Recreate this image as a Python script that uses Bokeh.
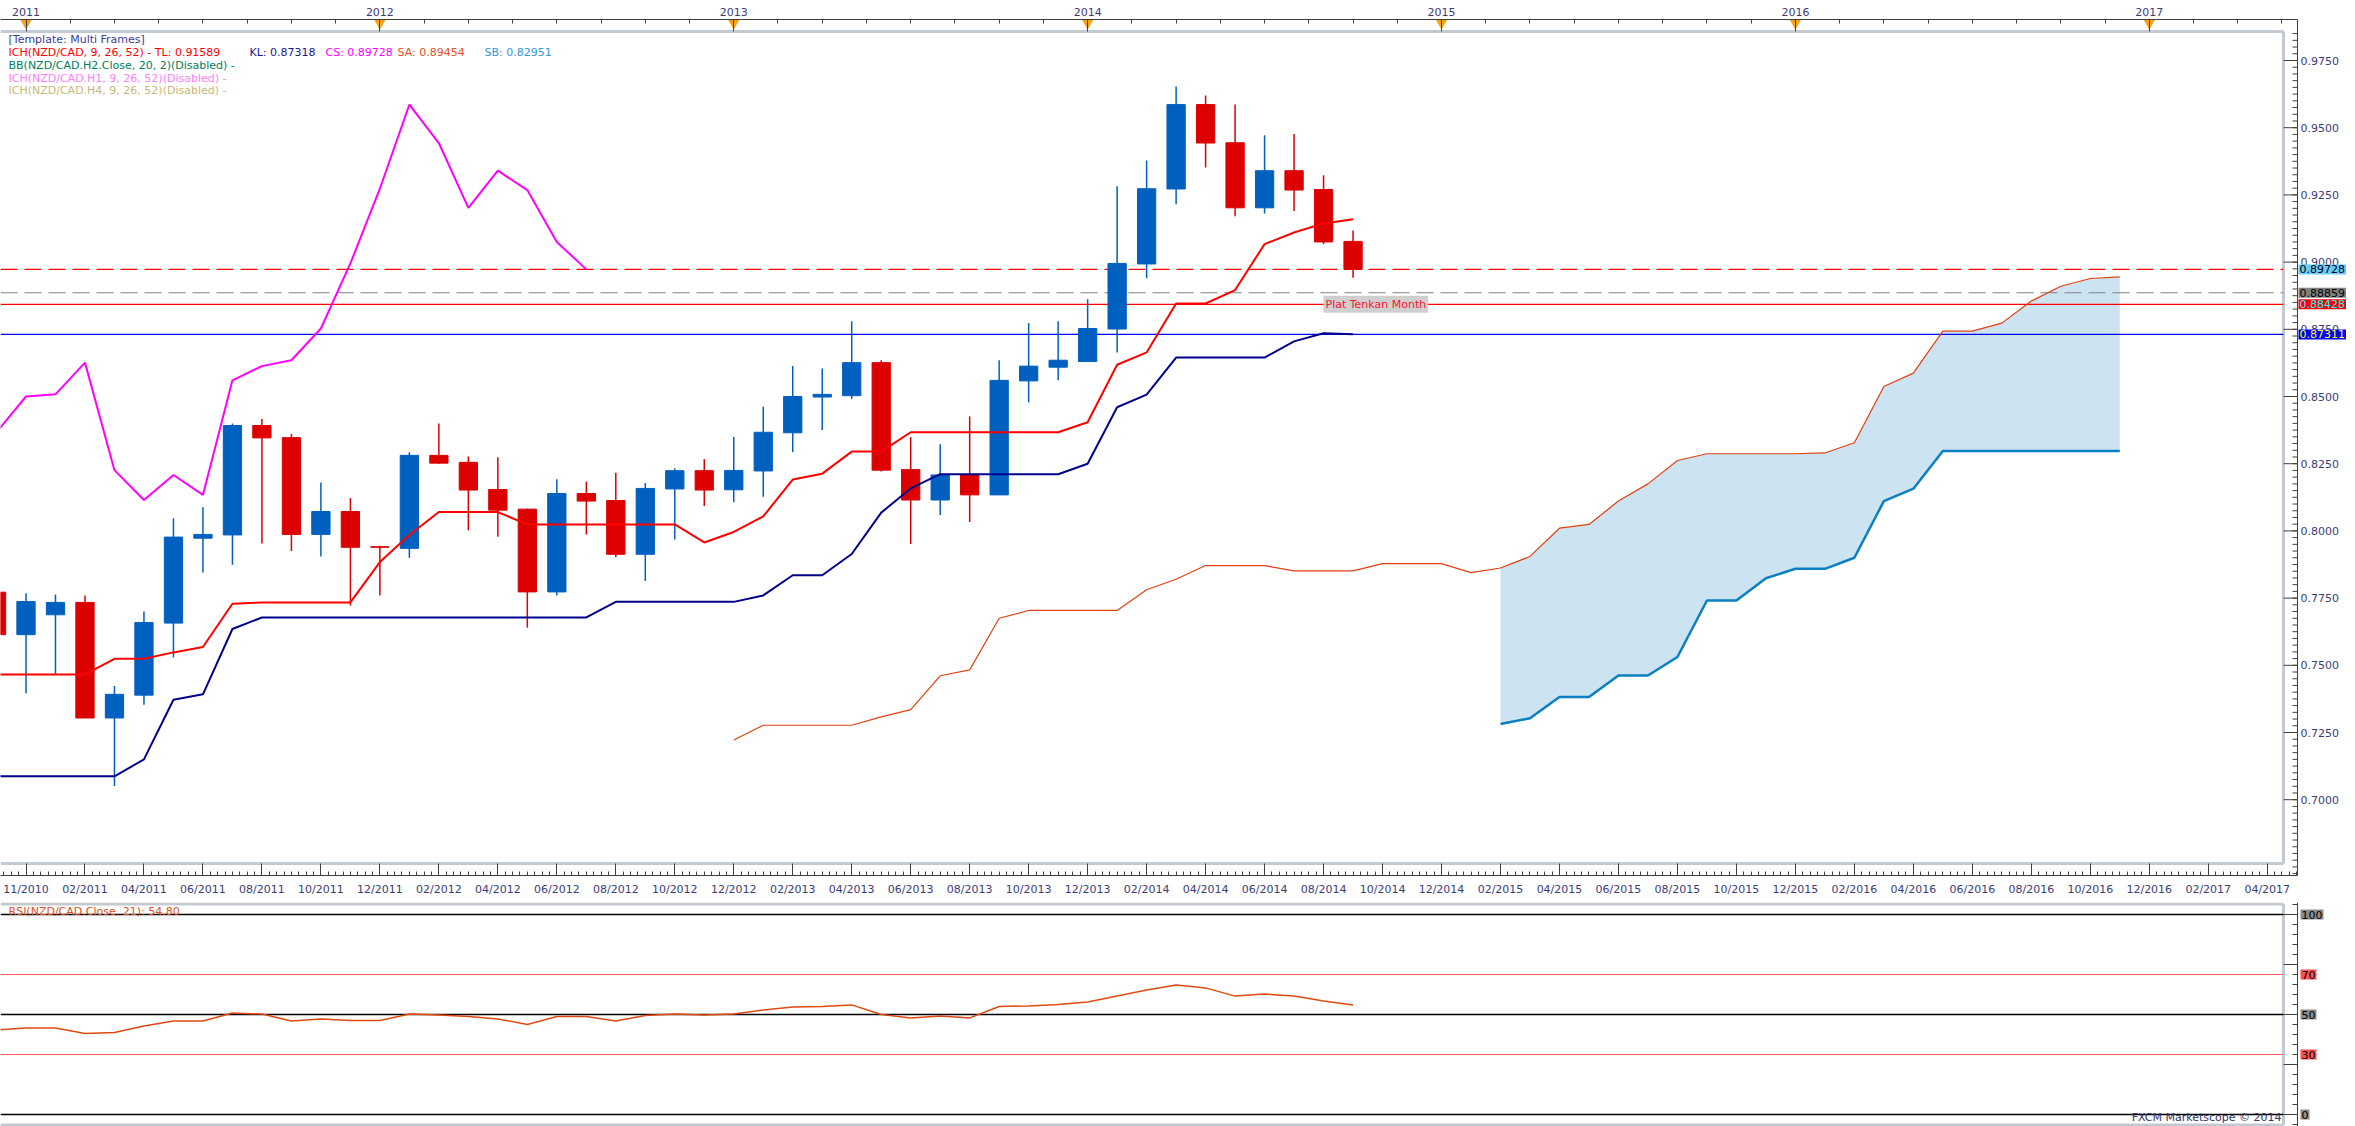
import numpy as np
from bokeh.plotting import figure
from bokeh.models import Range1d, LinearAxis, FixedTicker, Label
from bokeh.core.properties import value
from bokeh.layouts import column
from bokeh.embed import file_html
from bokeh.resources import INLINE

FONT = "DejaVu Sans"
AXIS_TEXT = "#3c3c78"

# ---------------- data (monthly bars, index 0 = tick labelled 11/2010) ----------------
bar_index = list(range(-1, 46))
opens = [0.7772, 0.7614, 0.7688, 0.7734, 0.7304, 0.7389, 0.7657, 0.7973, 0.7985, 0.8392,
         0.8347, 0.7987, 0.8072, 0.7941, 0.7935, 0.8281, 0.8255, 0.8154, 0.8081, 0.7773,
         0.8139, 0.8113, 0.7913, 0.8156, 0.8224, 0.8153, 0.8223, 0.8365, 0.8498, 0.8503,
         0.8626, 0.8228, 0.8115, 0.8208, 0.8134, 0.8558, 0.8609, 0.8630, 0.8751, 0.8993,
         0.9272, 0.9586, 0.9444, 0.9202, 0.9340, 0.9270, 0.9077]
highs = [0.7785, 0.7768, 0.7763, 0.7760, 0.7423, 0.7700, 0.8047, 0.8088, 0.8400, 0.8416,
         0.8361, 0.8180, 0.8122, 0.7945, 0.8293, 0.8400, 0.8277, 0.8274, 0.8083, 0.8192,
         0.8183, 0.8216, 0.8178, 0.8233, 0.8267, 0.8349, 0.8462, 0.8613, 0.8604, 0.8780,
         0.8635, 0.8349, 0.8322, 0.8426, 0.8635, 0.8773, 0.8780, 0.8862, 0.9282, 0.9378,
         0.9653, 0.9620, 0.9586, 0.9472, 0.9477, 0.9323, 0.9118]
lows = [0.7600, 0.7396, 0.7469, 0.7304, 0.7051, 0.7353, 0.7529, 0.7845, 0.7874, 0.7953,
        0.7925, 0.7905, 0.7722, 0.7760, 0.7900, 0.8250, 0.8002, 0.7978, 0.7640, 0.7760,
        0.7987, 0.7903, 0.7814, 0.7968, 0.8093, 0.8107, 0.8127, 0.8293, 0.8375, 0.8491,
        0.8221, 0.7951, 0.8059, 0.8033, 0.8134, 0.8478, 0.8560, 0.8630, 0.8664, 0.8940,
        0.9215, 0.9352, 0.9171, 0.9181, 0.9190, 0.9067, 0.8942]
closes = [0.7614, 0.7737, 0.7734, 0.7304, 0.7392, 0.7659, 0.7977, 0.7987, 0.8392, 0.8346,
          0.7987, 0.8072, 0.7939, 0.7939, 0.8281, 0.8252, 0.8152, 0.8077, 0.7773, 0.8139,
          0.8111, 0.7913, 0.8158, 0.8224, 0.8152, 0.8225, 0.8367, 0.8500, 0.8508, 0.8626,
          0.8226, 0.8115, 0.8208, 0.8134, 0.8560, 0.8613, 0.8635, 0.8753, 0.8995, 0.9273,
          0.9586, 0.9443, 0.9202, 0.9340, 0.9268, 0.9075, 0.8973]
tenkan = [0.7466, 0.7466, 0.7466, 0.7466, 0.7524, 0.7524, 0.7548, 0.7568, 0.7729, 0.7734,
          0.7734, 0.7734, 0.7734, 0.7884, 0.7985, 0.8070, 0.8070, 0.8070, 0.8024, 0.8024,
          0.8024, 0.8024, 0.8024, 0.8024, 0.7957, 0.7996, 0.8054, 0.8191, 0.8213, 0.8295,
          0.8295, 0.8367, 0.8367, 0.8367, 0.8367, 0.8367, 0.8367, 0.8404, 0.8618, 0.8664,
          0.8846, 0.8846, 0.8896, 0.9067, 0.9110, 0.9144, 0.9159]
kijun = [0.7087, 0.7087, 0.7087, 0.7087, 0.7087, 0.7150, 0.7372, 0.7392, 0.7635, 0.7678,
         0.7678, 0.7678, 0.7678, 0.7678, 0.7678, 0.7678, 0.7678, 0.7678, 0.7678, 0.7678,
         0.7678, 0.7736, 0.7736, 0.7736, 0.7736, 0.7736, 0.7760, 0.7835, 0.7835, 0.7914,
         0.8068, 0.8158, 0.8211, 0.8211, 0.8211, 0.8211, 0.8211, 0.8250, 0.8460, 0.8507,
         0.8645, 0.8645, 0.8645, 0.8645, 0.8705, 0.8735, 0.8732]
rsi = [42.3, 43.3, 43.3, 40.5, 41.0, 44.2, 46.8, 46.8, 50.7, 50.2,
       46.8, 47.8, 47.0, 47.0, 50.2, 49.8, 49.0, 47.8, 45.0, 49.0,
       49.0, 46.8, 49.5, 50.2, 49.7, 50.3, 52.2, 53.7, 54.0, 54.8,
       50.0, 48.3, 49.2, 48.3, 54.0, 54.3, 55.0, 56.3, 59.3, 62.3,
       64.7, 63.3, 59.2, 60.2, 59.3, 56.7, 54.8]
chikou_shift = 26

span_a_index = list(range(24, 72))
span_a = [0.7222, 0.7277, 0.7277, 0.7277, 0.7277, 0.7308, 0.7335, 0.7461, 0.7483, 0.7675,
          0.7704, 0.7704, 0.7704, 0.7704, 0.7781, 0.7820, 0.7871, 0.7871, 0.7871, 0.7851,
          0.7851, 0.7851, 0.7878, 0.7878, 0.7878, 0.7845, 0.7862, 0.7905, 0.8010, 0.8024,
          0.8111, 0.8175, 0.8262, 0.8287, 0.8287, 0.8287, 0.8287, 0.8290, 0.8328, 0.8537,
          0.8587, 0.8743, 0.8743, 0.8773, 0.8855, 0.8910, 0.8939, 0.8945]
span_b_index = list(range(50, 72))
span_b = [0.7282, 0.7303, 0.7382, 0.7382, 0.7462, 0.7462, 0.7531, 0.7741, 0.7741, 0.7824,
          0.7859, 0.7859, 0.7900, 0.8111, 0.8157, 0.8297, 0.8297, 0.8297, 0.8297, 0.8297,
          0.8297, 0.8297]

month_tick_labels = ["11/2010", "02/2011", "04/2011", "06/2011", "08/2011", "10/2011", "12/2011",
                     "02/2012", "04/2012", "06/2012", "08/2012", "10/2012", "12/2012",
                     "02/2013", "04/2013", "06/2013", "08/2013", "10/2013", "12/2013",
                     "02/2014", "04/2014", "06/2014", "08/2014", "10/2014", "12/2014",
                     "02/2015", "04/2015", "06/2015", "08/2015", "10/2015", "12/2015",
                     "02/2016", "04/2016", "06/2016", "08/2016", "10/2016", "12/2016",
                     "02/2017", "04/2017"]
year_tick_labels = ["2011", "2012", "2013", "2014", "2015", "2016", "2017"]
price_ticks = [0.7000, 0.7250, 0.7500, 0.7750, 0.8000, 0.8250, 0.8500, 0.8750,
               0.9000, 0.9250, 0.9500, 0.9750]
price_tick_labels = ["0.7000", "0.7250", "0.7500", "0.7750", "0.8000", "0.8250", "0.8500",
                     "0.8750", "0.9000", "0.9250", "0.9500", "0.9750"]

price_levels = [0.89728, 0.88859, 0.88428, 0.87311]
price_tag_text = ["0.89728", "0.88859", "0.88428", "0.87311"]
rsi_ticks = [0, 25, 50, 75, 100]
rsi_levels = [100, 70, 50, 30, 0]
rsi_level_text = ["100", "70", "50", "30", "0"]

assert len(opens) == len(highs) == len(lows) == len(closes) == len(bar_index)
assert len(tenkan) == len(kijun) == len(rsi) == len(bar_index)
assert len(span_a) == len(span_a_index) and len(span_b) == len(span_b_index)

# ---------------- geometry (reference-pixel helpers, 1:1 with the reference) ----------------
TOTAL_W = 2355
PX_PER_MONTH = 29.49
X0 = (0 - 25.5) / PX_PER_MONTH
X1 = (TOTAL_W - 25.5) / PX_PER_MONTH
REF_TOP, REF_BOT = 19.0, 875.0
Y1 = 0.975 + (60 - REF_TOP) / 67.2 * 0.025
Y0 = 0.975 - (REF_BOT - 60) / 67.2 * 0.025


def xd(px):
    return X0 + px * (X1 - X0) / TOTAL_W


def yd(py):
    return Y1 - (py - REF_TOP) * (Y1 - Y0) / (REF_BOT - REF_TOP)


def ry(py):
    return 100 - (py - 914) / 2.0


FRAME_GREY = "#c3c9d1"
AX_COL = "#404040"

# ---------------- main figure ----------------
p = figure(width=TOTAL_W, height=902, x_range=Range1d(X0, X1), y_range=Range1d(Y0, Y1),
           output_backend="svg", toolbar_location=None, y_axis_location=None,
           min_border_left=0, min_border_right=0, min_border_top=19, min_border_bottom=27)
p.xgrid.visible = False
p.ygrid.visible = False
p.outline_line_color = None
p.background_fill_color = "white"
p.border_fill_color = "white"

x_border = xd(2283)
x_axis_line = xd(2297)


def style_axis(ax, tick_in, minor_in):
    ax.axis_line_color = AX_COL
    ax.major_tick_line_color = AX_COL
    ax.minor_tick_line_color = AX_COL
    ax.major_tick_in = tick_in
    ax.major_tick_out = 0
    ax.minor_tick_in = minor_in
    ax.minor_tick_out = 0
    ax.major_label_text_font = FONT
    ax.major_label_text_font_size = "11px"
    ax.major_label_text_color = AXIS_TEXT
    ax.bounds = (X0, x_axis_line)


# bottom month axis
xax = p.xaxis[0]
month_pos = [2 * k for k in range(len(month_tick_labels))]
xax.ticker = FixedTicker(ticks=month_pos, minor_ticks=[0.25 * k for k in range(-3, 309)])
xax.major_label_overrides = {pos: lab for pos, lab in zip(month_pos, month_tick_labels)}
style_axis(xax, 12, 4)
xax.major_label_standoff = 7

# top year axis
year_pos = [12 * k for k in range(len(year_tick_labels))]
top = LinearAxis(ticker=FixedTicker(ticks=year_pos, minor_ticks=[1.5 * k for k in range(52)]),
                 major_label_overrides={pos: lab for pos, lab in zip(year_pos, year_tick_labels)})
style_axis(top, 12, 4)
top.major_label_standoff = 4
p.add_layout(top, "above")
p.scatter(year_pos, [yd(22.5)] * len(year_pos), marker="inverted_triangle", size=10,
          fill_color="#f7a21b", line_color="#f7a21b")

# frame borders
p.segment([X0, x_border, X0], [yd(31), yd(31), yd(863)], [x_border, x_border, x_border],
          [yd(31), yd(863), yd(863)], line_color=FRAME_GREY, line_width=3)

# price scale on the right (drawn through the data scales)
p.segment([x_axis_line], [Y1], [x_axis_line], [Y0], line_color=AX_COL, line_width=1)
p.segment([x_border] * len(price_ticks), price_ticks, [x_axis_line] * len(price_ticks),
          price_ticks, line_color=AX_COL, line_width=1)
minor_price = [round(0.6725 + 0.0025 * k, 4) for k in range(126)]
p.segment([xd(2292)] * len(minor_price), minor_price, [x_axis_line] * len(minor_price),
          minor_price, line_color=AX_COL, line_width=1)
p.text(x=[xd(2300)] * len(price_ticks), y=price_ticks, text=price_tick_labels,
       text_font=value(FONT), text_font_size="11px", text_color=AXIS_TEXT,
       text_baseline="middle", text_align="left")

# cloud
cloud_a = span_a[span_b_index[0] - span_a_index[0]:]
p.varea(x=span_b_index, y1=cloud_a, y2=span_b, fill_color="#cce4f1")

# price lines
p.segment([X0], [price_levels[0]], [x_border], [price_levels[0]], line_color="#ff0000",
          line_width=1.2, line_dash="17 7")
p.segment([X0], [price_levels[1]], [x_border], [price_levels[1]], line_color="#808080",
          line_width=1.2, line_dash="17 7")
p.segment([X0], [price_levels[2]], [x_border], [price_levels[2]], line_color="#ff0000", line_width=1.2)
p.segment([X0], [price_levels[3]], [x_border], [price_levels[3]], line_color="#0000ff", line_width=1.2)

# senkou spans
p.line(span_a_index, span_a, line_color="#e04010", line_width=1.2)
p.line(span_b_index, span_b, line_color="#0a7fc2", line_width=2.5)

# candles
UP, DOWN = "#0060c0", "#dc0000"
colors = [UP if c >= o else DOWN for o, c in zip(opens, closes)]
p.segment(bar_index, highs, bar_index, lows, line_color=colors, line_width=1.5)
p.vbar(x=bar_index, width=0.62, top=[max(o, c) for o, c in zip(opens, closes)],
       bottom=[min(o, c) for o, c in zip(opens, closes)], fill_color=colors, line_color=colors,
       line_width=1)

# ichimoku lines
p.line(bar_index, kijun, line_color="#00008b", line_width=2)
p.line(bar_index, tenkan, line_color="#ff0000", line_width=2)
p.line([i - chikou_shift for i in bar_index], closes, line_color="#ff00ff", line_width=2)


def label(fig, x, y, text, color, align="left", bg=None, size="11px", pad=0):
    kw = dict(x=x, y=y, text=text, text_color=color, text_font=FONT, text_font_size=size,
              text_align=align, text_baseline="middle")
    if bg is not None:
        kw.update(background_fill_color=bg, background_fill_alpha=1.0, padding=pad)
    fig.add_layout(Label(**kw))


# legend block
label(p, xd(8), yd(39), "[Template: Multi Frames]", "#3c3c96")
label(p, xd(8), yd(52), "ICH(NZD/CAD, 9, 26, 52) -  TL: 0.91589", "#ff0000")
label(p, xd(249), yd(52), "KL: 0.87318", "#1a1a8c")
label(p, xd(325), yd(52), "CS: 0.89728", "#ff00ff")
label(p, xd(397), yd(52), "SA: 0.89454", "#e8501e")
label(p, xd(484), yd(52), "SB: 0.82951", "#3399dd")
label(p, xd(8), yd(65), "BB(NZD/CAD.H2.Close, 20, 2)(Disabled) -", "#008060")
label(p, xd(8), yd(78), "ICH(NZD/CAD.H1, 9, 26, 52)(Disabled) -", "#ff80ff")
label(p, xd(8), yd(90), "ICH(NZD/CAD.H4, 9, 26, 52)(Disabled) -", "#c8b878")

label(p, xd(1323), price_levels[2], "Plat Tenkan Month", "#ff1030", bg="#cfcfcf", pad=2)

# price tags on the right scale
tag_x = xd(2298)
label(p, tag_x, price_levels[0], price_tag_text[0], "black", bg="#66ccff", pad=1)
label(p, tag_x, price_levels[2], price_tag_text[2], "#00ffff", bg="#ff0000", pad=1)
label(p, tag_x, price_levels[1], price_tag_text[1], "black", bg="#808080", pad=1)
label(p, tag_x, price_levels[3], price_tag_text[3], "#ffff00", bg="#0000ff", pad=1)

# ---------------- RSI figure ----------------
r = figure(width=TOTAL_W, height=224, x_range=p.x_range, y_range=Range1d(ry(1126), ry(902)),
           output_backend="svg", toolbar_location=None, y_axis_location=None,
           x_axis_location=None, min_border_left=0, min_border_right=0,
           min_border_top=0, min_border_bottom=0)
r.xgrid.visible = False
r.ygrid.visible = False
r.outline_line_color = None
r.background_fill_color = "white"
r.border_fill_color = "white"

r.segment([X0, x_border, X0], [ry(903.5), ry(903.5), ry(1124.5)], [x_border, x_border, x_border],
          [ry(903.5), ry(1124.5), ry(1124.5)], line_color=FRAME_GREY, line_width=3)

# RSI scale on the right
r.segment([x_axis_line], [ry(902)], [x_axis_line], [ry(1126)], line_color=AX_COL, line_width=1)
r.segment([x_border] * len(rsi_ticks), rsi_ticks, [x_axis_line] * len(rsi_ticks), rsi_ticks,
          line_color=AX_COL, line_width=1)
minor_rsi = list(range(-5, 106, 5))
r.segment([xd(2292)] * len(minor_rsi), minor_rsi, [x_axis_line] * len(minor_rsi), minor_rsi,
          line_color=AX_COL, line_width=1)

level_colors = ["black", "#ff5a5a", "black", "#ff5a5a", "black"]
r.segment([X0] * len(rsi_levels), rsi_levels, [x_border] * len(rsi_levels), rsi_levels,
          line_color=level_colors, line_width=[1.5, 1, 1.5, 1, 1.5])
r.line(bar_index, rsi, line_color="#e04a10", line_width=1.5)

label(r, xd(8), ry(911), "RSI(NZD/CAD.Close, 21): 54.80", "#e05020")
label(r, xd(2281), ry(1117), "FXCM Marketscope \u00a9 2014", "#333366", align="right")
tag_bgs = ["#8c8c8c", "#ff5050", "#8c8c8c", "#ff5050", "#8c8c8c"]
for lv, txt, bg in zip(rsi_levels, rsi_level_text, tag_bgs):
    label(r, xd(2300), lv, txt, "black", bg=bg, pad=1)

layout = column(p, r, spacing=0)
open("out.html", "w").write(file_html(layout, INLINE))
